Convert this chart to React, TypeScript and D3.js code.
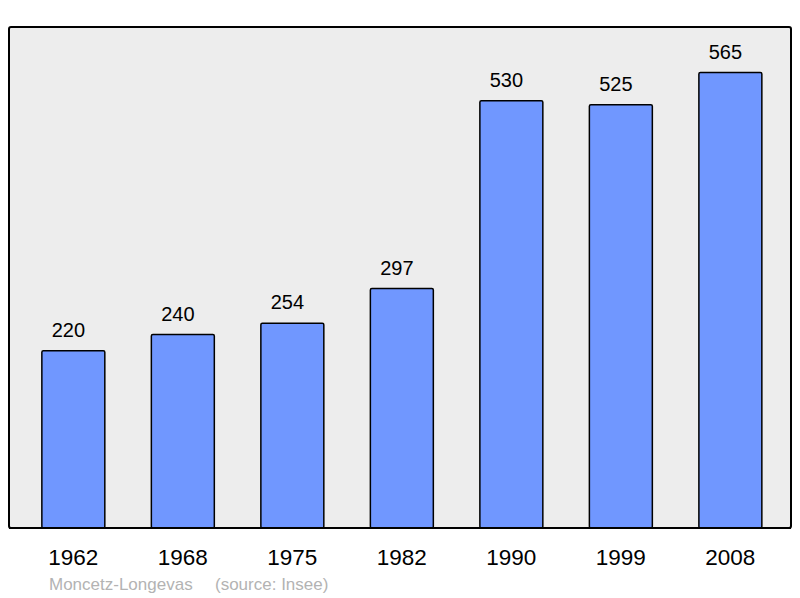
import React from 'react';
import * as d3 from 'd3';

const years = ['1962', '1968', '1975', '1982', '1990', '1999', '2008'];
const population = [220, 240, 254, 297, 530, 525, 565];
const commune = 'Moncetz-Longevas';
const source = '(source: Insee)';

const W = 800;
const H = 598;
const panel = { left: 9, top: 27, right: 791, bottom: 528 };

export default function App() {
  // step ~109.5px, bar ~63px wide
  const x = d3
    .scaleBand()
    .domain(years)
    .range([panel.left, panel.left + 785.7])
    .paddingInner(0.425)
    .paddingOuter(0.3);

  const y = d3
    .scaleLinear()
    .domain([0, 565 * 1.1])
    .range([panel.bottom, panel.top]);

  return (
    <svg
      width={W}
      height={H}
      style={{ position: 'absolute', left: 0, top: 0 }}
      fontFamily="'Liberation Sans', Arial, sans-serif"
    >
      <rect width={W} height={H} fill="#fff" />
      <rect
        x={panel.left}
        y={panel.top}
        width={panel.right - panel.left}
        height={panel.bottom - panel.top}
        rx={2}
        fill="#ededed"
        stroke="#000"
        strokeWidth={2}
      />
      {years.map((yr, i) => {
        const v = population[i];
        const bx = x(yr)!;
        const cx = bx + x.bandwidth() / 2;
        return (
          <g key={yr}>
            <rect
              x={bx}
              y={y(v)}
              width={x.bandwidth()}
              height={panel.bottom - y(v)}
              rx={1.5}
              fill="#7097ff"
              stroke="#000"
              strokeWidth={1.5}
            />
            {/* value labels sit a little left of the bar centre */}
            <text x={cx - 5} y={y(v) - 14} textAnchor="middle" fontSize={20} fill="#000">
              {v}
            </text>
            <text x={cx} y={565} textAnchor="middle" fontSize={22.5} fill="#000">
              {yr}
            </text>
          </g>
        );
      })}
      {/* redraw bottom axis line over bar edges */}
      <line
        x1={panel.left}
        x2={panel.right}
        y1={panel.bottom}
        y2={panel.bottom}
        stroke="#000"
        strokeWidth={2}
      />
      <text x={49} y={590} fontSize={17} fill="#b3b3b3">
        {commune}
      </text>
      <text x={215} y={590} fontSize={17} fill="#b3b3b3">
        {source}
      </text>
    </svg>
  );
}
